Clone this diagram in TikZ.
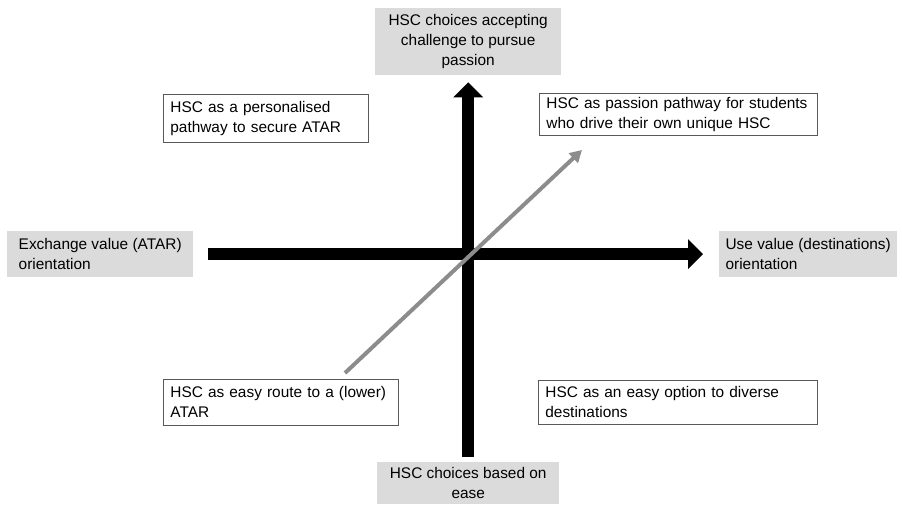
\documentclass[tikz,border=0pt]{standalone}
\usepackage{fontspec}
\setmainfont{Liberation Sans}
\usetikzlibrary{arrows.meta}
\begin{document}
\begin{tikzpicture}[x=1pt,y=-1pt,
  txt/.style={font=\fontsize{15.4}{20}\selectfont},
  quad/.style={txt, draw=black!65, line width=0.8pt, fill=white, align=left,
    anchor=north west, inner xsep=7pt, inner ysep=0pt},
  pole/.style={txt, fill=black!14, anchor=north west, inner xsep=0pt, inner ysep=0pt},
  axis/.style={line width=12pt, -{Triangle[width=29pt,length=15pt]}},
  route/.style={draw=black!45, line width=4pt, -{Triangle[width=13pt,length=12pt]}}]
\useasboundingbox (0,0) rectangle (903,504);

% poles of the two axes
\node[pole, align=center, minimum width=186pt, minimum height=67pt] (top) at (375,8)
  {HSC choices accepting\\challenge to pursue\\passion};
\node[pole, align=center, minimum width=182pt, minimum height=42pt] (bot) at (377,462)
  {HSC choices based on\\ease};
\node[pole, align=left, minimum width=186pt, minimum height=46pt] (left) at (7,231)
  {Exchange value (ATAR)\\orientation};
\node[pole, align=left, minimum width=178pt, minimum height=46pt] (right) at (719,231)
  {Use value (destinations)\\orientation};

% quadrant descriptions
\node[quad, text width=191pt, minimum height=48pt] (tl) at (163,94)
  {HSC as a personalised\\pathway to secure ATAR};
\node[quad, text width=264pt, minimum height=42pt] (tr) at (539,93)
  {HSC as passion pathway for students\\who drive their own unique HSC};
\node[quad, text width=221pt, minimum height=46pt] (bl) at (163,379)
  {HSC as easy route to a (lower)\\ATAR};
\node[quad, text width=265pt, minimum height=44pt] (br) at (538,380)
  {HSC as an easy option to diverse\\destinations};

% axes
\draw[axis, shorten <=5pt, shorten >=7pt] (bot.north) -- (top.south);
\draw[axis, shorten <=15pt, shorten >=16pt] (left.east) -- (right.west);

% diagonal route
\coordinate (rs) at (345,373);
\coordinate (re) at (582,150);
\draw[route] (rs) -- (re);
\end{tikzpicture}
\end{document}
